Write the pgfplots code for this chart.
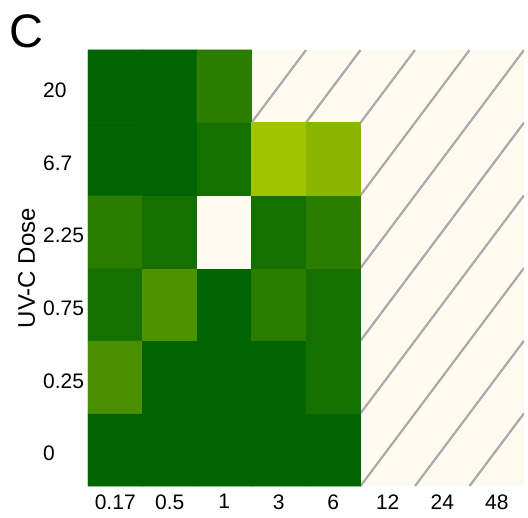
\documentclass[border=0pt]{standalone}
\usepackage{pgfplots}
\pgfplotsset{compat=1.18}
\usepackage{pgfplotstable}
\usepackage{fontspec}
\setmainfont{Liberation Sans}

\definecolor{cream}{RGB}{255,250,240}
\definecolor{hatchgray}{RGB}{170,170,170}

% x = time index (0.17 ... 48), y = dose index (0 ... 20), v = response; nan = no data
\pgfplotstableread{
x y v
0 0 100
1 0 100
2 0 100
3 0 100
4 0 100
5 0 nan
6 0 nan
7 0 nan
0 1 67
1 1 100
2 1 100
3 1 100
4 1 91
5 1 nan
6 1 nan
7 1 nan
0 2 91
1 2 65
2 2 100
3 2 81
4 2 91
5 2 nan
6 2 nan
7 2 nan
0 3 81
1 3 91
2 3 0
3 3 91
4 3 81
5 3 nan
6 3 nan
7 3 nan
0 4 100
1 4 100
2 4 91
3 4 28
4 4 38
5 4 nan
6 4 nan
7 4 nan
0 5 100
1 5 100
2 5 81
3 5 nan
4 5 nan
5 5 nan
6 5 nan
7 5 nan
}\uvcdata

\begin{document}
\begin{tikzpicture}
\begin{axis}[
    name=ax, at={(0,0)}, anchor=south west,
    scale only axis, width=436bp, height=436bp,
    xmin=-0.5, xmax=7.5, ymin=-0.5, ymax=5.5,
    axis line style={draw=none},
    major tick length=0pt,
    xtick={0,...,7},
    xticklabels={0.17,0.5,1,3,6,12,24,48},
    ytick={0,...,5},
    yticklabels={0,0.25,0.75,2.25,6.7,20},
    tick label style={font=\fontsize{21bp}{25bp}\selectfont},
    xticklabel style={yshift=-5bp},
    yticklabel style={anchor=west, inner sep=0pt, xshift=-45bp, yshift=-4bp},
    ylabel={UV-C Dose},
    every axis y label/.style={at={([xshift=-61.3bp]axis description cs:0,0.5)},
        anchor=center, rotate=90, font=\fontsize{24bp}{28bp}\selectfont},
    colormap={uvc}{rgb255(0cm)=(255,250,240) rgb255(20cm)=(180,206,0) rgb255(100cm)=(0,100,0)},
    point meta min=0, point meta max=100,
    unbounded coords=jump,
]
% no-data region: cream with diagonal hatching
\fill[cream] (axis cs:4.5,-0.5) rectangle (axis cs:7.5,5.5);
\fill[cream] (axis cs:2.5,4.5) rectangle (axis cs:4.5,5.5);
\begin{scope}[hatchgray, line width=2.2bp]
\draw (axis cs:2.5,4.5) -- (axis cs:3.5,5.5);
\draw (axis cs:3.5,4.5) -- (axis cs:4.5,5.5);
\draw (axis cs:4.5,4.5) -- (axis cs:5.5,5.5);
\draw (axis cs:4.5,3.5) -- (axis cs:6.5,5.5);
\draw (axis cs:4.5,2.5) -- (axis cs:7.5,5.5);
\draw (axis cs:4.5,1.5) -- (axis cs:7.5,4.5);
\draw (axis cs:4.5,0.5) -- (axis cs:7.5,3.5);
\draw (axis cs:4.5,-0.5) -- (axis cs:7.5,2.5);
\draw (axis cs:5.5,-0.5) -- (axis cs:7.5,1.5);
\draw (axis cs:6.5,-0.5) -- (axis cs:7.5,0.5);
\end{scope}
\addplot[matrix plot*, shader=faceted, faceted color=mapped color, line width=0.8bp,
    mesh/cols=8, point meta=explicit]
    table[x=x, y=y, meta=v] {\uvcdata};
\end{axis}
\node[anchor=base west, inner sep=0pt, font=\fontsize{47bp}{50bp}\selectfont]
    at ([xshift=-78.5bp, yshift=2.3bp]ax.north west) {C};
\pgfresetboundingbox
\path[use as bounding box] ([shift={(-88bp,-32bp)}]ax.south west)
    rectangle ([shift={(4bp,50bp)}]ax.north east);
\end{tikzpicture}
\end{document}
